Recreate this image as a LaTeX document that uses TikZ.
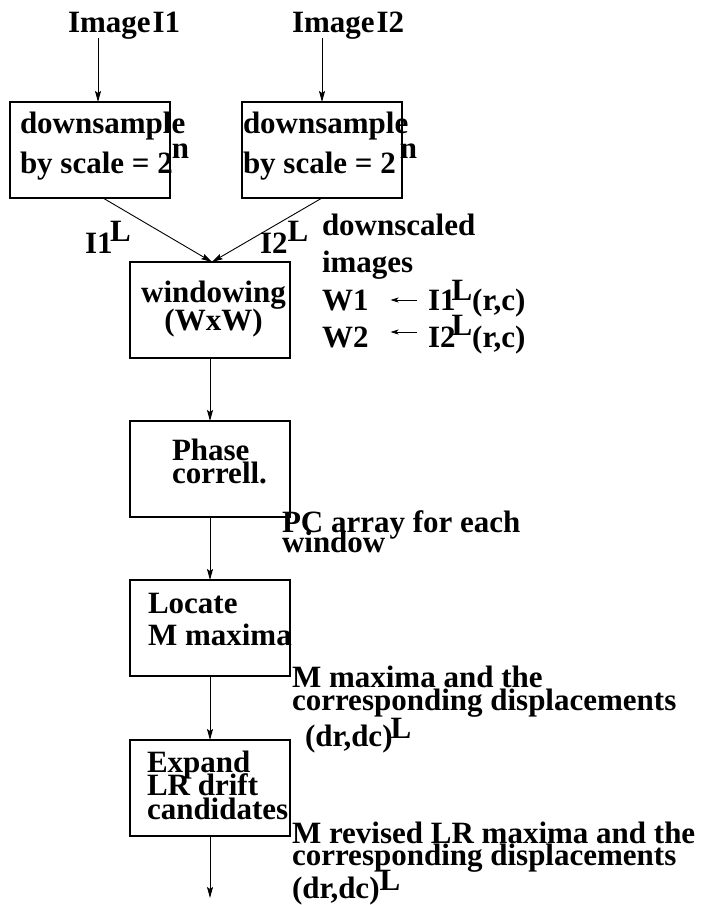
\documentclass[tikz,border=0pt]{standalone}
\usepackage{fontspec}
\setmainfont{Liberation Serif}
\usetikzlibrary{arrows.meta}
\begin{document}
\begin{tikzpicture}[x=1pt,y=-1pt,
  txt/.style={font=\fontsize{31}{31}\selectfont\bfseries, inner sep=0pt, outer sep=0pt, anchor=base west},
  mtxt/.style={txt, align=left, font=\fontsize{31}{#1}\selectfont\bfseries, execute at begin node={\lineskiplimit=-100pt\relax}},
  box/.style={draw, line width=1.1pt, minimum width=160pt, minimum height=96pt, inner sep=0pt, outer sep=0pt},
  arr/.style={line width=0.9pt, -{Stealth[length=11pt,width=6pt,inset=2pt]}},
  sarr/.style={line width=0.9pt, -{Stealth[length=8pt,width=5pt,inset=2pt]}}]
\useasboundingbox (0,0) rectangle (707,905);
% input labels
\node[txt] (img1) at (68,32) {Image\kern2pt I1};
\node[txt] (img2) at (292,32) {Image\kern2pt I2};
% boxes
\node[box] (b1) at (90,150) {};
\node[box] (b2) at (322,150) {};
\node[box] (win) at (210,310) {};
\node[box] (pha) at (210,469) {};
\node[box] (loc) at (210,628) {};
\node[box] (exp) at (210,788) {};
% box texts (node base = baseline of last line)
\node[mtxt=40] (b1t) at (20,173) {downsample\\by scale = 2\kern-1pt\raisebox{15pt}{n}};
\node[mtxt=40] (b2t) at (243,173) {downsample\\by scale = 2\kern4pt\raisebox{15pt}{n}};
\node[mtxt=28, align=center, anchor=base] (wint) at (213.5,330) {windowing\\(WxW)};
\node[mtxt=23] (phat) at (172,483) {Phase\\correll.};
\node[mtxt=32] (loct) at (148,645) {Locate\\M maxima};
\node[mtxt=23.5] (expt) at (147,819) {Expand\\LR drift\\candidates};
% edge labels
\node[txt] (l1) at (85,253) {I1\kern-2.5pt\raisebox{12pt}{L}};
\node[txt] (l2) at (260,253) {I2\raisebox{12pt}{L}};
% right annotations
\node[mtxt=37] (ds) at (322,272) {downscaled\\images};
\node[txt] (w1) at (322,310) {W1};
\node[txt] (i1) at (428,310) {I1\kern-4pt\raisebox{10pt}{L}(r,c)};
\node[txt] (w2) at (322,347) {W2};
\node[txt] (i2) at (428,347) {I2\kern-4pt\raisebox{12pt}{L}(r,c)};
\node[mtxt=19.5] (pc) at (282,552) {PC array for each\\window};
\node[mtxt=23] (mm) at (292,746) {M maxima and the\\corresponding displacements\\[13pt]\kern13pt(dr,dc)\kern-2pt\raisebox{8pt}{L}};
\node[mtxt=22] (mr) at (292,898) {M revised LR maxima and the\\corresponding displacements\\[11pt](dr,dc)\raisebox{8pt}{L}};
\coordinate (out) at (210,898);
% connectors
\draw[arr] (98,38) -- ([xshift=8pt]b1.north);
\draw[arr] (322,38) -- (b2.north);
\draw[arr] ([xshift=13pt]b1.south) -- ([xshift=2pt]win.north);
\draw[arr] (b2.south) -- ([xshift=2pt]win.north);
\draw[arr] (win.south) -- (pha.north);
\draw[arr] (pha.south) -- (loc.north);
\draw[arr] (loc.south) -- (exp.north);
\draw[arr] (exp.south) -- (out);
\draw[sarr] ([xshift=-11pt,yshift=10pt]i1.base west) -- ([xshift=22pt,yshift=10pt]w1.base east);
\draw[sarr] ([xshift=-11pt,yshift=15pt]i2.base west) -- ([xshift=22pt,yshift=15pt]w2.base east);
\end{tikzpicture}
\end{document}
